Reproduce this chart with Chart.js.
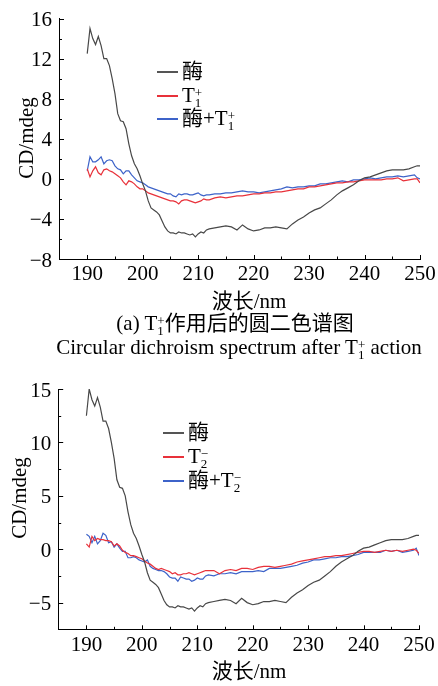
<!DOCTYPE html>
<html>
<head>
<meta charset="utf-8">
<script src="https://cdn.jsdelivr.net/npm/chart.js@4.4.0/dist/chart.umd.min.js"></script>
<style>
  html, body { margin: 0; padding: 0; background: #fff; }
  body { width: 438px; height: 686px; position: relative; overflow: hidden;
         font-family: 'Liberation Serif', 'Noto Sans CJK SC', serif; color: #000; }
  .wrap { position: absolute; left: 0; }
  .txt { position: absolute; font-size: 21px; line-height: 24px; white-space: nowrap; }
  .ctr { transform: translate(-50%, -50%); }
  .ytitle { transform: translate(-50%, -50%) rotate(-90deg); }
  .leg { position: absolute; font-size: 21px; line-height: 24px; white-space: nowrap; height: 24px; }
  .leg .ln { display: inline-block; width: 21px; height: 1.5px; vertical-align: middle; margin-right: 4px; position: relative; top: -1px; }
  .stk { display: inline-block; font-size: 13px; line-height: 10px; vertical-align: -5px; text-align: left; }
  .stk span { display: block; }
</style>
</head>
<body>
<div class="wrap" style="top:0;width:438px;height:290px"><canvas id="chartA" width="438" height="290"></canvas></div>
<div class="wrap" style="top:360px;width:438px;height:300px"><canvas id="chartB" width="438" height="300"></canvas></div>

<!-- chart A texts -->
<div class="txt ytitle" style="left:26px;top:138px">CD/mdeg</div>
<div class="txt ctr" style="left:249px;top:301px">波长/nm</div>
<div class="txt ctr" style="left:235px;top:323px">(a) T<span class="stk"><span>+</span><span>1</span></span>作用后的圆二色谱图</div>
<div class="txt ctr" style="left:239px;top:347px">Circular dichroism spectrum after T<span class="stk"><span>+</span><span>1</span></span> action</div>
<div class="leg" style="left:157px;top:59px"><span class="ln" style="background:#555"></span>酶</div>
<div class="leg" style="left:157px;top:83px"><span class="ln" style="background:#e8313a"></span>T<span class="stk"><span>+</span><span>1</span></span></div>
<div class="leg" style="left:157px;top:106px"><span class="ln" style="background:#3d63c9"></span>酶+T<span class="stk"><span>+</span><span>1</span></span></div>

<!-- chart B texts -->
<div class="txt ytitle" style="left:19px;top:498px">CD/mdeg</div>
<div class="txt ctr" style="left:249px;top:671px">波长/nm</div>
<div class="leg" style="left:163px;top:420px"><span class="ln" style="background:#555"></span>酶</div>
<div class="leg" style="left:163px;top:444px"><span class="ln" style="background:#e8313a"></span>T<span class="stk"><span>−</span><span>2</span></span></div>
<div class="leg" style="left:163px;top:468px"><span class="ln" style="background:#3d63c9"></span>酶+T<span class="stk"><span>−</span><span>2</span></span></div>

<script>
// Wavelength (nm)
const wavelengths = [190,190.5,191,191.5,192,192.5,193,193.5,194,194.5,195,195.5,196,196.5,197,197.5,198,198.5,199,199.5,200,200.5,201,201.5,202,202.5,203,203.5,204,204.5,205,205.5,206,206.5,207,207.5,208,208.5,209,209.5,210,210.5,211,211.5,212,
  213,214,215,216,217,218,219,220,221,222,223,224,225,226,227,228,229,230,231,232,233,234,235,236,237,238,239,240,241,242,243,244,245,246,247,248,249,249.5,250];

// 酶 (enzyme), same in both panels
const enzyme = [12.5,15.0,14.0,13.4,14.2,13.3,12.0,12.0,11.3,10.0,8.5,6.5,5.8,5.7,5.0,3.5,2.3,1.5,1.0,0.3,-0.5,-1.2,-2.2,-2.9,-3.1,-3.3,-3.6,-4.2,-4.8,-5.2,-5.4,-5.4,-5.5,-5.3,-5.4,-5.4,-5.5,-5.6,-5.5,-5.8,-5.5,-5.3,-5.4,-5.1,-5.0,
  -4.9,-4.8,-4.7,-4.8,-5.1,-4.6,-5.0,-5.2,-5.1,-4.9,-4.9,-4.8,-4.9,-5.0,-4.5,-4.1,-3.8,-3.4,-3.1,-2.9,-2.5,-2.1,-1.6,-1.2,-0.9,-0.6,-0.2,0.1,0.2,0.4,0.6,0.8,0.9,0.9,0.9,1.0,1.2,1.3,1.3];

// Panel (a)
const t1Plus = [1.0,0.2,0.8,1.2,0.6,0.4,0.9,1.0,0.8,0.7,0.5,0.3,0.1,-0.3,-0.6,-0.2,-0.3,-0.5,-0.8,-1.0,-1.0,-1.2,-1.4,-1.5,-1.6,-1.7,-1.8,-1.9,-2.0,-2.1,-2.2,-2.2,-2.3,-2.5,-2.2,-2.1,-2.1,-2.2,-2.3,-2.4,-2.3,-2.2,-2.0,-2.1,-2.1,
  -1.9,-1.8,-1.9,-1.8,-1.7,-1.7,-1.6,-1.5,-1.5,-1.4,-1.4,-1.3,-1.3,-1.2,-1.1,-1.0,-1.0,-0.8,-0.8,-0.7,-0.6,-0.5,-0.4,-0.4,-0.3,-0.3,-0.2,-0.1,-0.1,-0.1,-0.1,0.0,0.0,0.1,-0.2,-0.1,0.0,0.0,-0.4];
const enzymeT1Plus = [0.8,2.2,1.7,1.7,1.9,2.2,1.5,1.8,1.9,1.8,1.3,1.0,0.9,0.5,0.8,0.8,0.4,0.1,-0.2,-0.3,-0.4,-0.6,-0.8,-0.9,-1.0,-1.1,-1.2,-1.3,-1.4,-1.5,-1.5,-1.7,-1.8,-1.5,-1.6,-1.5,-1.5,-1.6,-1.6,-1.5,-1.4,-1.6,-1.7,-1.6,-1.6,
  -1.5,-1.5,-1.4,-1.4,-1.3,-1.2,-1.3,-1.3,-1.4,-1.3,-1.2,-1.1,-1.0,-0.8,-0.9,-0.8,-0.8,-0.7,-0.7,-0.5,-0.5,-0.4,-0.3,-0.2,-0.3,-0.1,-0.1,0.0,0.1,0.0,0.1,0.2,0.2,0.3,0.2,0.3,0.4,0.1,0.0];

// Panel (b)
const t2Minus = [0.5,0.2,1.2,0.8,1.0,0.9,0.9,0.8,0.8,0.7,0.3,0.5,0.3,-0.1,-0.3,-0.4,-0.6,-0.6,-0.7,-0.8,-0.9,-1.1,-1.3,-1.4,-1.6,-1.8,-1.9,-1.8,-1.9,-2.0,-2.1,-2.3,-2.2,-2.4,-2.4,-2.3,-2.3,-2.2,-2.3,-2.4,-2.3,-2.2,-2.1,-2.0,-2.0,
  -2.0,-2.3,-2.0,-1.9,-2.0,-1.8,-1.8,-1.9,-1.7,-1.6,-1.6,-1.7,-1.6,-1.5,-1.4,-1.2,-1.1,-1.0,-0.9,-0.8,-0.7,-0.7,-0.6,-0.6,-0.5,-0.4,-0.3,-0.2,-0.2,-0.3,-0.2,-0.1,-0.2,-0.1,-0.2,-0.1,0.0,-0.1,-0.4];
const enzymeT2Minus = [1.4,1.2,0.6,1.2,0.5,0.8,1.5,1.3,0.6,0.7,0.2,0.5,0.1,-0.2,-0.2,-0.8,-0.8,-0.7,-0.8,-1.0,-1.1,-1.2,-1.0,-1.6,-1.8,-1.9,-2.0,-2.0,-2.1,-2.3,-2.6,-2.7,-2.7,-3.0,-2.6,-2.7,-2.8,-2.8,-3.0,-2.9,-2.7,-2.8,-2.8,-2.5,-2.4,
  -2.5,-2.3,-2.3,-2.2,-2.3,-2.1,-2.1,-2.1,-2.0,-2.1,-1.8,-1.8,-1.8,-1.7,-1.6,-1.5,-1.3,-1.2,-1.0,-1.0,-0.9,-0.8,-0.8,-0.7,-0.7,-0.6,-0.5,-0.3,-0.3,-0.3,-0.3,-0.1,-0.2,-0.1,-0.3,-0.2,-0.1,0.1,-0.6];

// Axis tick settings
const xRange = [185, 250];
const xMajorStep = 10, xMinorStep = 5;
const yRangeA = [-8, 16], yMajorA = 4, yMinorA = 2;
const yRangeB = [-7.5, 15], yMajorB = 5, yMinorB = 2.5;

const colors = { enzyme: '#484848', red: '#e8313a', blue: '#3d63c9' };
const labelFont = '21px "Liberation Serif"';

function fmt(v) { return v < 0 ? '\u2212' + Math.abs(v) : String(v); }
function isMult(v, step) { return Math.abs(v / step - Math.round(v / step)) < 1e-6; }
function pts(ys) { return wavelengths.map((x, i) => ({ x, y: ys[i] })); }

// Inward tick marks + serif tick labels, positioned from the chart's own scales
const axisDecor = {
  id: 'axisDecor',
  afterDraw(chart, args, opts) {
    const { ctx, chartArea } = chart;
    const xs = chart.scales.x, ys = chart.scales.y;
    ctx.save();
    ctx.strokeStyle = '#000';
    ctx.lineWidth = 1;
    ctx.beginPath();
    xs.ticks.forEach(t => {
      if (t.value <= xs.min) return;
      const px = Math.round(xs.getPixelForValue(t.value)) + 0.5;
      const len = isMult(t.value, opts.xMajor) ? 4 : 2.5;
      ctx.moveTo(px, chartArea.bottom);
      ctx.lineTo(px, chartArea.bottom - len);
    });
    ys.ticks.forEach(t => {
      if (t.value <= ys.min) return;
      const py = Math.round(ys.getPixelForValue(t.value)) + 0.5;
      const len = isMult(t.value, opts.yMajor) ? 4.5 : 2.5;
      ctx.moveTo(chartArea.left, py);
      ctx.lineTo(chartArea.left + len, py);
    });
    ctx.stroke();

    ctx.fillStyle = '#000';
    ctx.font = labelFont;
    ctx.textBaseline = 'alphabetic';
    ctx.textAlign = 'center';
    xs.ticks.forEach(t => {
      if (!isMult(t.value, opts.xMajor)) return;
      ctx.fillText(String(t.value), xs.getPixelForValue(t.value), chartArea.bottom + opts.xLabelDrop);
    });
    ctx.textAlign = 'right';
    ys.ticks.forEach(t => {
      if (!isMult(t.value, opts.yMajor)) return;
      ctx.fillText(fmt(t.value), chartArea.left - 7.5, ys.getPixelForValue(t.value) + 7.5);
    });
    ctx.restore();
  }
};

function makeChart(id, redData, blueData, yRange, yMajor, yMinor, geom) {
  const canvas = document.getElementById(id);
  return new Chart(canvas, {
    type: 'line',
    data: {
      datasets: [
        { label: '酶', data: pts(enzyme), borderColor: colors.enzyme, borderWidth: 1.2, pointRadius: 0, tension: 0 },
        { label: 'red', data: pts(redData), borderColor: colors.red, borderWidth: 1.2, pointRadius: 0, tension: 0 },
        { label: 'blue', data: pts(blueData), borderColor: colors.blue, borderWidth: 1.2, pointRadius: 0, tension: 0 }
      ]
    },
    options: {
      responsive: false,
      animation: false,
      devicePixelRatio: 1,
      layout: { padding: { left: 0, right: geom.right, top: geom.top, bottom: 0 } },
      plugins: { legend: { display: false }, tooltip: { enabled: false },
                 axisDecor: { xMajor: xMajorStep, yMajor, xLabelDrop: geom.xLabelDrop } },
      scales: {
        x: {
          type: 'linear', min: xRange[0], max: xRange[1],
          grid: { display: false, drawTicks: false },
          border: { display: true, color: '#000', width: 1 },
          ticks: { display: false, stepSize: xMinorStep, autoSkip: false },
          afterFit: s => { s.height = geom.xAxisH; }
        },
        y: {
          type: 'linear', min: yRange[0], max: yRange[1],
          grid: { display: false, drawTicks: false },
          border: { display: true, color: '#000', width: 1 },
          ticks: { display: false, stepSize: yMinor, autoSkip: false },
          afterFit: s => { s.width = geom.yAxisW; }
        }
      }
    },
    plugins: [axisDecor]
  });
}

makeChart('chartA', t1Plus, enzymeT1Plus, yRangeA, yMajorA, yMinorA, { right: 18, top: 18.5, xAxisH: 31, yAxisW: 59.5, xLabelDrop: 21 });
makeChart('chartB', t2Minus, enzymeT2Minus, yRangeB, yMajorB, yMinorB, { right: 19, top: 29, xAxisH: 30.7, yAxisW: 58.7, xLabelDrop: 22 });
</script>
</body>
</html>
